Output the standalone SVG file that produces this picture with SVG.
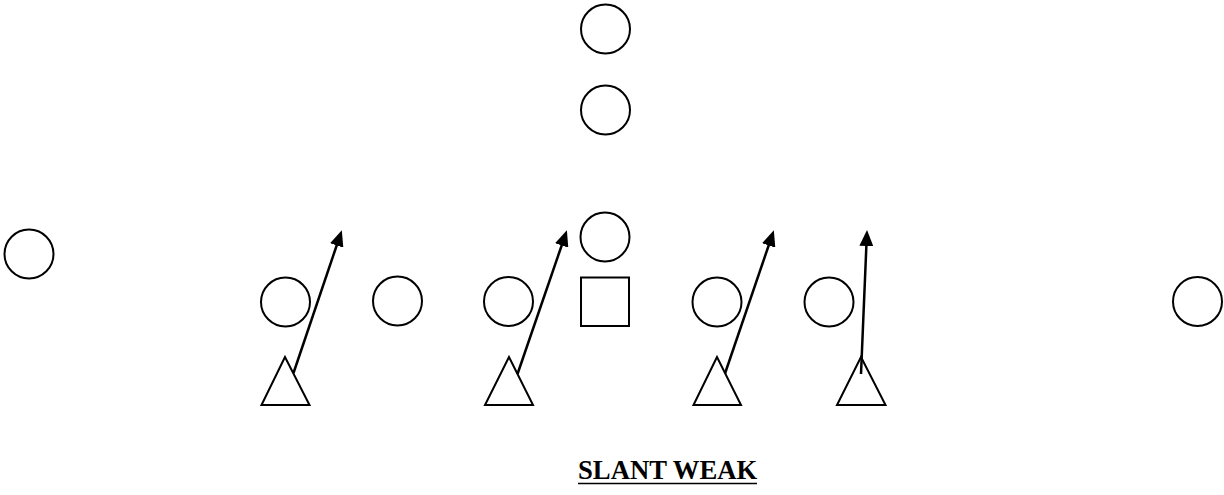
<svg xmlns="http://www.w3.org/2000/svg" width="1224" height="495" viewBox="0 0 1224 495">
  <style>
    .player { fill: #fff; stroke: #000; stroke-width: 2; }
    .route { fill: none; stroke: #000; stroke-width: 2.5; marker-end: url(#head); }
    .title { font-family: "Liberation Serif", "Times New Roman", serif; font-weight: bold; font-size: 26.7px; fill: #000; }
  </style>
  <defs>
    <marker id="head" markerUnits="userSpaceOnUse" viewBox="0 0 16 14" refX="1" refY="7" markerWidth="16" markerHeight="14" orient="auto">
      <path d="M0,0 L16,7 L0,14 Z" fill="#000"/>
    </marker>
  </defs>

  <rect width="1224" height="495" fill="#fff"/>

  <!-- defense -->
  <g id="safety-deep"><circle class="player" cx="605.5" cy="29" r="24.5"/></g>
  <g id="safety"><circle class="player" cx="605.5" cy="110" r="24.5"/></g>
  <g id="linebacker"><circle class="player" cx="605" cy="237" r="24.5"/></g>
  <g id="corner-left"><circle class="player" cx="29" cy="254" r="24.5"/></g>
  <g id="corner-right"><circle class="player" cx="1197.5" cy="301.5" r="24.5"/></g>

  <!-- offensive line -->
  <g id="tackle-left"><circle class="player" cx="285.5" cy="302" r="24.5"/></g>
  <g id="guard-left"><circle class="player" cx="397.5" cy="301" r="24.5"/></g>
  <g id="guard-left-2"><circle class="player" cx="508.5" cy="301.5" r="24.5"/></g>
  <g id="center"><rect class="player" x="581" y="277.5" width="48" height="48.5"/></g>
  <g id="guard-right"><circle class="player" cx="717" cy="302" r="24.5"/></g>
  <g id="tackle-right"><circle class="player" cx="829" cy="302" r="24.5"/></g>

  <!-- defensive linemen -->
  <g id="dl-1"><polygon class="player" points="285,357 261.5,405 309.5,405"/></g>
  <g id="dl-2"><polygon class="player" points="509,357 485,405 533,405"/></g>
  <g id="dl-3"><polygon class="player" points="717,357 693.5,405 741,405"/></g>
  <g id="dl-4"><polygon class="player" points="861,357 837,405 885.5,405"/></g>

  <!-- slant routes -->
  <g id="connectors">
    <line class="route" x1="293.5" y1="373" x2="337" y2="244.5"/>
    <line class="route" x1="517.5" y1="374" x2="562" y2="244.5"/>
    <line class="route" x1="725" y1="373.5" x2="769" y2="244.5"/>
    <line class="route" x1="861" y1="374" x2="866.4" y2="245"/>
  </g>

  <g id="title">
    <text class="title" x="578" y="479.3">SLANT WEAK</text>
    <line x1="578" y1="483.5" x2="757" y2="483.5" stroke="#000" stroke-width="1.6"/>
  </g>
</svg>
